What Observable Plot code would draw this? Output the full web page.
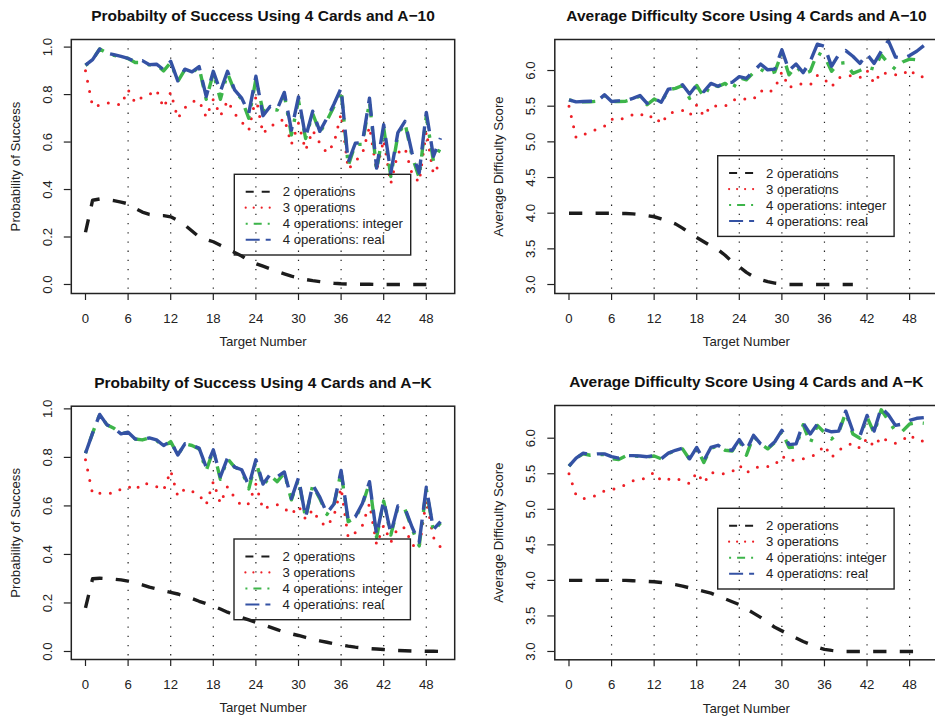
<!DOCTYPE html>
<html><head><meta charset="utf-8">
<script src="https://cdn.jsdelivr.net/npm/d3@7"></script>
<script src="https://cdn.jsdelivr.net/npm/@observablehq/plot@0.6"></script>
<style>
html,body{margin:0;padding:0;background:#fff;overflow:hidden;}
#wrap{position:relative;width:935px;height:717px;overflow:hidden;font-family:"Liberation Sans",Arial,Helvetica,sans-serif;color:#222;background:#fff}
.panel{position:absolute}
</style></head><body><div id="wrap"></div>
<script>
// ---- data ----
const targets = [0,1,2,3,4,5,6,7,8,9,10,11,12,13,14,15,16,17,18,19,20,21,22,23,24,25,26,27,28,29,30,31,32,33,34,35,36,37,38,39,40,41,42,43,44,45,46,47,48,49,50];
const xTicks = [0,6,12,18,24,30,36,42,48];
const gridTicks = [6,12,18,24,30,36,42,48];
const probTicks = [0,0.2,0.4,0.6,0.8,1.0];
const diffTicks = [3.0,3.5,4.0,4.5,5.0,5.5,6.0];
const seriesNames = ["2 operations","3 operations","4 operations: integer","4 operations: real"];
const titles = ["Probabilty of Success Using 4 Cards and A\u221210","Average Difficulty Score Using 4 Cards and A\u221210","Probabilty of Success Using 4 Cards and A\u2212K","Average Difficulty Score Using 4 Cards and A\u2212K"];

// A-10, probability
const a10Prob2 = [0.22,0.355,0.36,0.357,0.353,0.347,0.34,0.32,0.305,0.295,0.29,0.29,0.285,0.27,0.25,0.225,0.2,0.19,0.18,0.165,0.15,0.135,0.12,0.1,0.088,0.077,0.066,0.055,0.045,0.035,0.028,0.021,0.016,0.012,0.008,0.005,0.003,0.002,0.001,0.001,0.001,0,0,0,0,0,0,0,0];
const a10Prob3 = [0.90,0.75,0.755,0.765,0.765,0.755,0.82,0.765,0.79,0.80,0.82,0.745,0.81,0.70,0.745,0.77,0.775,0.705,0.78,0.71,0.775,0.72,0.685,0.65,0.79,0.635,0.67,0.675,0.70,0.59,0.68,0.565,0.65,0.595,0.555,0.595,0.72,0.485,0.52,0.55,0.665,0.48,0.61,0.425,0.555,0.575,0.465,0.43,0.645,0.465,0.515];
const a10Prob4int = [0.923,0.947,0.992,0.975,0.965,0.96,0.952,0.935,0.935,0.925,0.925,0.9,0.935,0.855,0.905,0.893,0.915,0.78,0.89,0.78,0.89,0.815,0.78,0.70,0.865,0.73,0.74,0.735,0.80,0.63,0.775,0.615,0.72,0.64,0.69,0.75,0.82,0.50,0.59,0.59,0.77,0.48,0.66,0.455,0.63,0.68,0.54,0.45,0.71,0.52,0.575];
const a10Prob4real = [0.924,0.947,0.992,0.975,0.968,0.961,0.952,0.94,0.943,0.926,0.928,0.905,0.94,0.858,0.907,0.896,0.918,0.792,0.898,0.813,0.898,0.82,0.785,0.722,0.877,0.711,0.75,0.739,0.809,0.65,0.79,0.62,0.73,0.645,0.70,0.76,0.827,0.515,0.595,0.598,0.785,0.49,0.673,0.47,0.64,0.687,0.553,0.47,0.725,0.54,0.617];

// A-10, difficulty
const a10Diff2 = [4.0,4.0,4.0,4.0,4.0,4.0,4.0,3.995,3.995,3.99,3.98,3.965,3.95,3.92,3.89,3.85,3.79,3.72,3.66,3.6,3.54,3.49,3.41,3.32,3.25,3.17,3.11,3.07,3.04,3.02,3.01,3.0,3.0,3.0,3.0,3.0,3.0,3.0,3.0,3.0,3.0];
const a10Diff3 = [5.5,5.06,5.1,5.14,5.18,5.22,5.32,5.3,5.35,5.38,5.4,5.33,5.37,5.25,5.4,5.42,5.44,5.37,5.52,5.36,5.51,5.5,5.5,5.58,5.61,5.6,5.6,5.72,5.68,5.75,5.98,5.76,5.81,5.81,5.8,5.93,5.88,5.77,5.9,5.92,5.93,5.9,6.0,5.82,5.98,5.95,5.94,5.94,6.02,5.92,5.91];
const a10Diff4int = [5.59,5.56,5.56,5.56,5.57,5.65,5.565,5.565,5.57,5.6,5.64,5.52,5.6,5.55,5.73,5.75,5.79,5.61,5.79,5.63,5.81,5.776,5.82,5.73,5.9,5.87,5.97,6.02,5.95,5.98,6.25,5.94,6.06,5.95,5.99,6.25,6.2,5.99,6.1,6.11,5.96,6.0,6.05,6.02,6.22,6.1,6.02,6.12,6.16,6.15,6.14];
const a10Diff4real = [5.59,5.56,5.565,5.57,5.57,5.66,5.565,5.575,5.575,5.61,5.65,5.54,5.61,5.555,5.74,5.75,5.8,5.67,5.8,5.705,5.82,5.78,5.83,5.835,5.915,5.89,5.99,6.09,6.01,6.02,6.29,6.0,6.09,5.97,6.13,6.37,6.34,6.06,6.22,6.28,6.2,6.1,6.23,6.1,6.27,6.42,6.19,6.17,6.21,6.27,6.35];

// A-K, probability
const akProb2 = [0.18,0.30,0.302,0.30,0.298,0.295,0.29,0.283,0.275,0.265,0.258,0.25,0.244,0.237,0.228,0.218,0.207,0.197,0.187,0.175,0.162,0.15,0.14,0.13,0.12,0.11,0.1,0.09,0.08,0.073,0.066,0.058,0.05,0.044,0.038,0.032,0.027,0.022,0.018,0.015,0.012,0.01,0.008,0.006,0.004,0.003,0.002,0.002,0.001,0.001,0.0];
const akProb3 = [0.79,0.65,0.652,0.652,0.652,0.67,0.68,0.665,0.695,0.69,0.68,0.665,0.745,0.64,0.67,0.66,0.645,0.605,0.70,0.61,0.68,0.635,0.60,0.61,0.69,0.585,0.60,0.605,0.59,0.565,0.60,0.545,0.585,0.535,0.515,0.56,0.675,0.47,0.49,0.52,0.61,0.44,0.52,0.45,0.51,0.51,0.44,0.425,0.625,0.47,0.43];
const akProb4int = [0.817,0.90,0.977,0.935,0.92,0.897,0.904,0.876,0.872,0.88,0.87,0.845,0.865,0.81,0.856,0.849,0.835,0.745,0.83,0.71,0.795,0.76,0.745,0.67,0.785,0.68,0.725,0.70,0.735,0.625,0.71,0.55,0.685,0.63,0.565,0.605,0.74,0.535,0.55,0.605,0.695,0.47,0.62,0.48,0.595,0.585,0.505,0.435,0.67,0.495,0.53];
const akProb4real = [0.817,0.90,0.977,0.935,0.92,0.897,0.904,0.876,0.874,0.88,0.872,0.849,0.867,0.81,0.856,0.849,0.838,0.76,0.831,0.721,0.798,0.76,0.749,0.684,0.79,0.69,0.73,0.72,0.74,0.63,0.716,0.553,0.687,0.636,0.57,0.608,0.746,0.54,0.555,0.61,0.70,0.48,0.622,0.487,0.60,0.59,0.512,0.45,0.677,0.503,0.535];

// A-K, difficulty
const akDiff2 = [4.0,4.0,4.0,4.0,4.0,4.0,4.0,4.0,4.0,3.995,3.99,3.985,3.98,3.97,3.955,3.94,3.92,3.895,3.87,3.845,3.82,3.78,3.74,3.7,3.66,3.6,3.54,3.48,3.41,3.34,3.29,3.24,3.19,3.14,3.1,3.06,3.03,3.015,3.005,3.0,3.0,3.0,3.0,3.0,3.0,3.0,3.0,3.0,3.0,3.0];
const akDiff3 = [5.5,5.2,5.15,5.17,5.2,5.26,5.28,5.3,5.35,5.4,5.41,5.45,5.52,5.4,5.42,5.44,5.4,5.36,5.52,5.37,5.52,5.5,5.5,5.53,5.62,5.51,5.58,5.6,5.6,5.62,5.75,5.68,5.7,5.71,5.74,5.78,5.9,5.73,5.83,5.89,5.93,5.86,6.0,5.88,6.02,5.95,5.93,5.97,6.05,5.97,5.96];
const akDiff4int = [5.606,5.72,5.78,5.76,5.77,5.77,5.71,5.70,5.75,5.75,5.745,5.735,5.75,5.71,5.785,5.825,5.85,5.7,5.86,5.66,5.86,5.89,5.83,5.82,5.97,5.76,6.03,5.92,5.85,5.94,6.1,5.87,5.88,6.19,5.93,6.18,6.08,5.99,6.08,6.36,6.06,6.0,6.3,6.07,6.4,6.25,6.1,6.1,6.2,6.22,6.21];
const akDiff4real = [5.606,5.72,5.79,5.77,5.78,5.78,5.74,5.72,5.756,5.755,5.75,5.74,5.756,5.71,5.79,5.83,5.86,5.71,5.87,5.685,5.87,5.9,5.84,5.83,5.98,5.83,6.04,5.92,5.86,5.95,6.11,5.91,5.92,6.21,6.06,6.2,6.12,6.09,6.1,6.38,6.1,6.03,6.32,6.1,6.43,6.33,6.18,6.2,6.25,6.28,6.29];

// ---- styles ----
const FONT = '"Liberation Sans", Arial, Helvetica, sans-serif';
const FS = 13.2;
const lineStyles = [
  {stroke: "#1c1c1c", strokeWidth: 3.4, strokeDasharray: "13.3,13.3", strokeLinecap: "butt", legendDash: "8,8"},
  {stroke: "#ee1f26", strokeWidth: 3, strokeDasharray: "0,10.5", strokeLinecap: "round", legendDash: "0,8"},
  {stroke: "#3db54a", strokeWidth: 3.4, strokeDasharray: "3.3,10,13.3,10", strokeLinecap: "butt", legendDash: "2,6,8,6"},
  {stroke: "#3452a4", strokeWidth: 3.4, strokeDasharray: "23.3,10", strokeLinecap: "butt", legendDash: "14,6"}
];

const wrap = document.getElementById("wrap");

function makePanel(cfg) {
  const marks = [
    Plot.ruleX(gridTicks, {stroke: "#222", strokeWidth: 1.2, strokeDasharray: "1.3,7.9"}),
  ];
  cfg.series.forEach((vals, k) => {
    const st = lineStyles[k];
    const data = vals.map((v, i) => ({t: targets[i], v}));
    marks.push(Plot.line(data, {x: "t", y: "v", stroke: st.stroke, strokeWidth: st.strokeWidth,
      strokeDasharray: st.strokeDasharray, strokeLinecap: st.strokeLinecap, strokeLinejoin: "round"}));
  });
  marks.push(
    Plot.frame({stroke: "#222", strokeWidth: 1.5}),
    Plot.axisX({ticks: xTicks, tickSize: 7, tickPadding: 13.2, label: null, fontSize: FS, stroke: "#222", strokeWidth: 1.2}),
    Plot.axisY({ticks: cfg.yTicks, tickSize: 7, tickFormat: () => "", label: null, stroke: "#222", strokeWidth: 1.2}),
    Plot.text(cfg.yTicks, {y: d => d, text: d => d3.format(".1f")(d), frameAnchor: "left", dx: -24,
      rotate: -90, textAnchor: "middle", lineAnchor: "middle", fontSize: FS, fill: "#222"}),
    Plot.text([cfg.ylab], {text: d => d, frameAnchor: "left", dx: -55.7, rotate: -90,
      textAnchor: "middle", lineAnchor: "middle", fontSize: FS, fill: "#222"}),
    Plot.text(["Target Number"], {text: d => d, frameAnchor: "bottom", dy: 48.7,
      textAnchor: "middle", lineAnchor: "middle", fontSize: FS, fill: "#222"}),
    Plot.text([cfg.title], {text: d => d, frameAnchor: "top", dy: -23.5,
      textAnchor: "middle", lineAnchor: "middle", fontSize: 15.5, fontWeight: "bold", fill: "#111"})
  );
  const svg = Plot.plot({
    width: cfg.w, height: cfg.h,
    marginLeft: cfg.ml, marginRight: cfg.mr, marginTop: cfg.mt, marginBottom: cfg.mb,
    x: {domain: [-2, 52]},
    y: {domain: cfg.yDomain},
    style: {fontFamily: FONT, fontSize: FS + "px", color: "#222", background: "transparent", overflow: "visible"},
    marks
  });
  const div = document.createElement("div");
  div.className = "panel";
  div.style.left = cfg.left + "px";
  div.style.top = cfg.top + "px";
  div.appendChild(svg);
  wrap.appendChild(div);
}

makePanel({left: 0, top: 0, w: 467, h: 358, ml: 70.8, mr: 12.8, mt: 39, mb: 65,
  yDomain: [-0.038, 1.032], yTicks: probTicks, title: titles[0], ylab: "Probability of Success",
  series: [a10Prob2, a10Prob3, a10Prob4int, a10Prob4real]});
makePanel({left: 467, top: 0, w: 468, h: 358, ml: 87.3, mr: -2.5, mt: 39, mb: 65,
  yDomain: [2.874, 6.435], yTicks: diffTicks, title: titles[1], ylab: "Average Difficulty Score",
  series: [a10Diff2, a10Diff3, a10Diff4int, a10Diff4real]});
makePanel({left: 0, top: 358, w: 467, h: 359, ml: 70.8, mr: 12.8, mt: 47.7, mb: 58,
  yDomain: [-0.033, 1.011], yTicks: probTicks, title: titles[2], ylab: "Probability of Success",
  series: [akProb2, akProb3, akProb4int, akProb4real]});
makePanel({left: 467, top: 358, w: 468, h: 359, ml: 87.3, mr: -2.5, mt: 47, mb: 57.7,
  yDomain: [2.883, 6.46], yTicks: diffTicks, title: titles[3], ylab: "Average Difficulty Score",
  series: [akDiff2, akDiff3, akDiff4int, akDiff4real]});

// ---- legends ----
const legendBoxes = [[234.3, 174.3], [717.7, 155.7], [234, 539], [717.7, 508.3]];
const overlay = d3.select(wrap).append("svg")
  .attr("width", 935).attr("height", 717)
  .style("position", "absolute").style("left", "0px").style("top", "0px")
  .style("font-family", FONT);
legendBoxes.forEach(([bx, by]) => {
  const g = overlay.append("g").attr("transform", `translate(${bx},${by})`);
  g.append("rect").attr("width", 176.4).attr("height", 80.7)
    .attr("fill", "none").attr("stroke", "#222").attr("stroke-width", 1.4);
  seriesNames.forEach((name, k) => {
    const yy = 17.4 + 16 * k;
    const st = lineStyles[k];
    g.append("line").attr("x1", 11.4).attr("x2", 36.4).attr("y1", yy).attr("y2", yy)
      .attr("stroke", st.stroke).attr("stroke-width", k === 1 ? 2.2 : 2)
      .attr("stroke-dasharray", st.legendDash).attr("stroke-linecap", k === 1 ? "round" : "butt");
    g.append("text").attr("x", 48.4).attr("y", yy).attr("dy", "0.35em")
      .attr("font-size", FS).attr("fill", "#222").text(name);
  });
});
</script></body></html>
